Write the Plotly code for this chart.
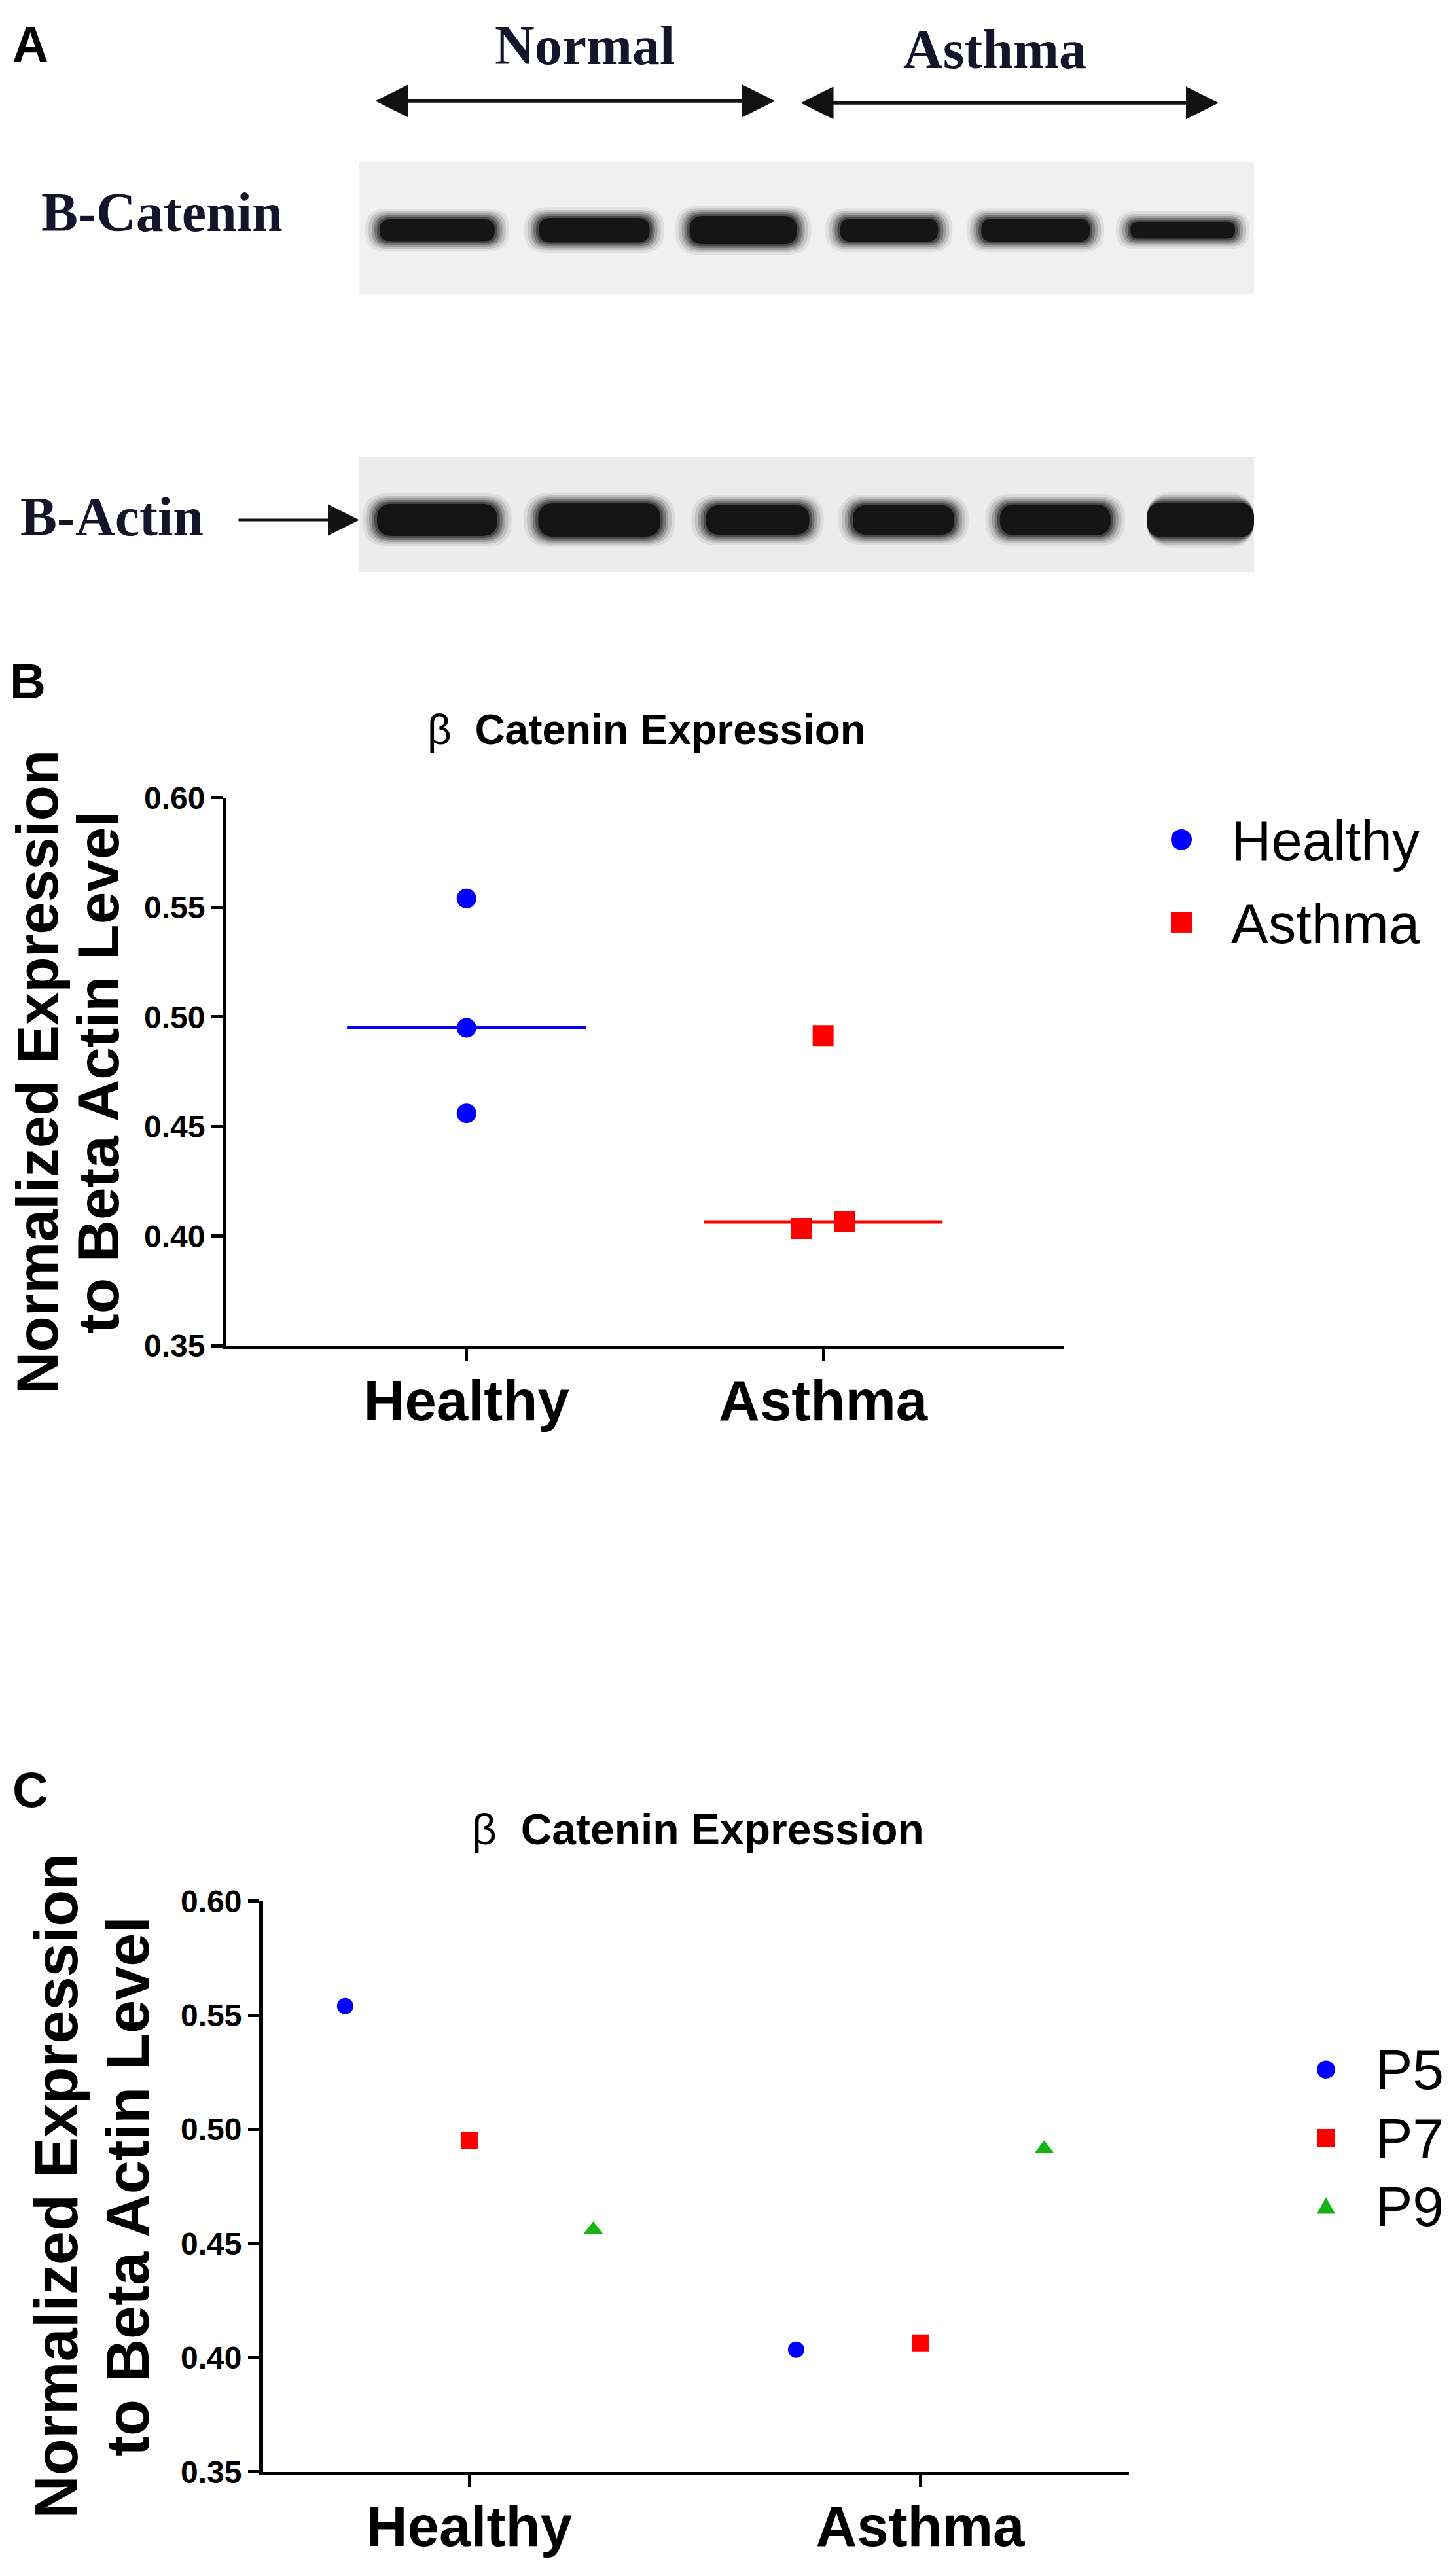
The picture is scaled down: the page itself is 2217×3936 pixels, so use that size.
import plotly.graph_objects as go
import numpy as np

# ------------------------------------------------------------------ data
groups = ["Healthy", "Asthma"]
patients = ["P5", "P7", "P9"]
healthy_expr = [0.554, 0.495, 0.456]      # P5, P7, P9
asthma_expr = [0.4035, 0.4065, 0.4915]    # P5, P7, P9
y_ticks = [0.35, 0.40, 0.45, 0.50, 0.55, 0.60]
blot_groups = ["Normal", "Asthma"]
blot_rows = ["B-Catenin", "B-Actin"]
lanes = [1, 2, 3, 4, 5, 6]

# ------------------------------------------------------------------ style / layout helpers
W, H = 2217, 3936


def fx(p):
    return p / W


def fy(p):
    return 1 - p / H


SANS = "Liberation Sans, Arial, Helvetica, sans-serif"
SERIF = "Liberation Serif, Times New Roman, serif"
BLUE, RED, GREEN = "#0000ff", "#ff0000", "#14b414"
INK = "#14142a"

# jitter used in panel B (Healthy all centred, Asthma P5/P7 nudged apart)
jit_b = {"Healthy": [0.0, 0.0, 0.0], "Asthma": [-0.06, 0.06, 0.0]}
# dodge used in panel C
dodge_c = {"P5": -0.275, "P7": 0.0, "P9": 0.275}
median_half = 0.335

fig = go.Figure()

# ------------------------------------------------------------------ panel B
series_b = {"Healthy": healthy_expr, "Asthma": asthma_expr}
sty_b = {"Healthy": (BLUE, "circle", 30), "Asthma": (RED, "square", 32)}
for gi, g in enumerate(groups):
    med = float(np.median(series_b[g]))
    fig.add_trace(go.Scatter(
        x=[gi - median_half, gi + median_half], y=[med, med], mode="lines",
        line=dict(color=sty_b[g][0], width=5), showlegend=False,
        hoverinfo="skip", xaxis="x", yaxis="y"))
for gi, g in enumerate(groups):
    col, sym, size = sty_b[g]
    fig.add_trace(go.Scatter(
        x=[gi + j for j in jit_b[g]], y=series_b[g], mode="markers", name=g,
        marker=dict(color=col, symbol=sym, size=size, line=dict(width=0)),
        xaxis="x", yaxis="y", showlegend=False))

# ------------------------------------------------------------------ panel C
sty_c = {"P5": (BLUE, "circle", 25), "P7": (RED, "square", 26),
         "P9": (GREEN, "triangle-up", 26)}
for k, p in enumerate(patients):
    col, sym, size = sty_c[p]
    fig.add_trace(go.Scatter(
        x=[gi + dodge_c[p] for gi in range(len(groups))],
        y=[healthy_expr[k], asthma_expr[k]], mode="markers", name=p,
        marker=dict(color=col, symbol=sym, size=size, line=dict(width=0)),
        xaxis="x2", yaxis="y2", showlegend=False))

# ------------------------------------------------------------------ axes
def num_axes(xdom, ydom, xr):
    xa = dict(domain=xdom, range=xr, tickvals=list(range(len(groups))), ticktext=groups,
              showline=True, linewidth=5, linecolor="black", ticks="outside",
              ticklen=18, tickwidth=4, tickcolor="black", showgrid=False, zeroline=False,
              ticklabelstandoff=-14,
              tickfont=dict(family=SANS, size=87, color="black", weight="bold"),
              fixedrange=True)
    ya = dict(domain=ydom, range=[0.35, 0.60], tickvals=y_ticks,
              ticktext=[f"{v:.2f}" for v in y_ticks],
              showline=True, linewidth=6, linecolor="black", ticks="outside",
              ticklen=17, tickwidth=5, tickcolor="black", showgrid=False, zeroline=False,
              tickfont=dict(family=SANS, size=48, color="black", weight="bold"),
              fixedrange=True)
    return xa, ya


xa, ya = num_axes([fx(346), fx(1626)], [fy(2058), fy(1209)], [-0.673, 1.676])
xa["anchor"], ya["anchor"] = "y", "x"
xa2, ya2 = num_axes([fx(402), fx(1725)], [fy(3802), fy(2918)], [-0.457, 1.463])
xa2["anchor"], ya2["anchor"] = "y2", "x2"

# blot panel axes (lanes x rows)
lane_px = 227.8
row_px = 451.0
xa3 = dict(domain=[fx(549), fx(1916)], range=[0.478, 6.478], visible=False,
           anchor="y3", fixedrange=True)
ya3 = dict(domain=[fy(860), fy(224)], range=[2.18, 0.769], visible=False,
           anchor="x3", fixedrange=True)

# ------------------------------------------------------------------ blot drawing (panel A)
shapes = []
shapes.append(dict(type="rect", xref="x3", yref="y3", x0=0.478, x1=6.478,
                   y0=0.769, y1=1 + (429 - 328) / row_px, fillcolor="#f0f0f0",
                   line=dict(width=0), layer="below"))
shapes.append(dict(type="rect", xref="x3", yref="y3", x0=0.478, x1=6.478,
                   y0=1 + (682 - 328) / row_px, y1=2.18, fillcolor="#ececec",
                   line=dict(width=0), layer="below"))

# band geometry (pixels)
band_geom = {
    "B-Catenin": dict(row=1, dy=2,
                      dx=[0, 12, 12, 7, 3, 0],
                      w=[176, 170, 164, 150, 166, 160],
                      h=[34, 38, 44, 36, 36, 26]),
    "B-Actin": dict(row=2, dy=0,
                    dx=[0, 20, 34, 29, 33, 27],
                    w=[184, 187, 158, 155, 169, 164],
                    h=[50, 52, 46, 46, 48, 54]),
}


def stadium(cx, cy, hw, hh, rx, ry):
    return (f"M{cx-hw+rx},{cy-hh} L{cx+hw-rx},{cy-hh} Q{cx+hw},{cy-hh} {cx+hw},{cy-hh+ry} "
            f"L{cx+hw},{cy+hh-ry} Q{cx+hw},{cy+hh} {cx+hw-rx},{cy+hh} "
            f"L{cx-hw+rx},{cy+hh} Q{cx-hw},{cy+hh} {cx-hw},{cy+hh-ry} "
            f"L{cx-hw},{cy-hh+ry} Q{cx-hw},{cy-hh} {cx-hw+rx},{cy-hh} Z")


# soft-edged bands: stacked translucent layers
layers = [(22, 16, 0.07), (17, 12, 0.12), (12, 9, 0.18), (8, 6, 0.26),
          (4, 3, 0.36), (0, 0, 0.72)]
for rname in blot_rows:
    g = band_geom[rname]
    for i, lane in enumerate(lanes):
        cx = lane + g["dx"][i] / lane_px
        cy = g["row"] + g["dy"] / row_px
        for ex, ey, a in layers:
            hw_px = g["w"][i] / 2 + ex
            hh_px = g["h"][i] / 2 + ey
            if rname == "B-Actin" and i == len(lanes) - 1:
                hw_px = g["w"][i] / 2  # last actin band runs into the membrane edge
            r_px = min(hh_px, hw_px) * 0.95
            shapes.append(dict(type="path", xref="x3", yref="y3",
                               path=stadium(cx, cy, hw_px / lane_px, hh_px / row_px,
                                            r_px / lane_px, r_px / row_px),
                               fillcolor=f"rgba(0,0,0,{a})", line=dict(width=0),
                               layer="above"))

# ------------------------------------------------------------------ annotations
ann = []


def txt(x, y, s, size, family=SANS, bold=True, color="black", angle=0, xanchor="center"):
    ann.append(dict(x=fx(x), y=fy(y), xref="paper", yref="paper", text=s, showarrow=False,
                    xanchor=xanchor, yanchor="middle", textangle=angle, borderpad=0,
                    font=dict(family=family, size=size, color=color,
                              weight="bold" if bold else "normal")))


# panel letters
txt(46, 42, "A", 76)
txt(42, 1028, "B", 76)
txt(46, 2745, "C", 76)

# panel A labels
txt(893, 44, blot_groups[0], 84, family=SERIF, color=INK)
txt(1520, 50, blot_groups[1], 84, family=SERIF, color=INK)
txt(248, 303, blot_rows[0], 84, family=SERIF, color=INK)
txt(171, 774, blot_rows[1], 84, family=SERIF, color=INK)

# double-headed group arrows
for head_x, tail_x, yy in [(1184, 572, 130), (1862, 1222, 133)]:
    ann.append(dict(x=fx(head_x), y=fy(yy), xref="paper", yref="paper", text="",
                    showarrow=True, axref="pixel", ayref="pixel", ax=tail_x - head_x, ay=0,
                    arrowside="end+start", arrowhead=2, startarrowhead=2,
                    arrowsize=2, startarrowsize=2, arrowwidth=5, arrowcolor="#111111",
                    standoff=0, startstandoff=0))
# B-Actin pointer arrow
ann.append(dict(x=fx(549), y=fy(779), xref="paper", yref="paper", text="",
                showarrow=True, axref="pixel", ayref="pixel", ax=363 - 549, ay=0,
                arrowhead=2, arrowsize=2.4, arrowwidth=4, arrowcolor="#111111",
                standoff=0))

# plot titles (beta drawn in regular weight, as in the original)
title_txt = "<span style='font-weight:normal'>β</span>  Catenin Expression"
txt(988, 1104, title_txt, 64)
txt(1066, 2807, title_txt, 66)

# y-axis titles (two lines each)
txt(57, 1634, "Normalized Expression", 89, angle=-90)
txt(150, 1634, "to Beta Actin Level", 89, angle=-90)
txt(86, 3360, "Normalized Expression", 92, angle=-90)
txt(195, 3360, "to Beta Actin Level", 92, angle=-90)

# ------------------------------------------------------------------ legends (keys + labels)
def legend_key(sym, cx, cy, d, color):
    r = d / 2
    if sym == "circle":
        shapes.append(dict(type="circle", xref="paper", yref="paper",
                           x0=fx(cx - r), x1=fx(cx + r), y0=fy(cy + r), y1=fy(cy - r),
                           fillcolor=color, line=dict(width=0)))
    elif sym == "square":
        shapes.append(dict(type="rect", xref="paper", yref="paper",
                           x0=fx(cx - r), x1=fx(cx + r), y0=fy(cy + r), y1=fy(cy - r),
                           fillcolor=color, line=dict(width=0)))
    else:
        shapes.append(dict(type="path", xref="paper", yref="paper",
                           path=(f"M{fx(cx - r)},{fy(cy + r * 0.8)} L{fx(cx + r)},{fy(cy + r * 0.8)} "
                                 f"L{fx(cx)},{fy(cy - r * 1.0)} Z"),
                           fillcolor=color, line=dict(width=0)))


for k, g in enumerate(groups):
    col, sym, _ = sty_b[g]
    cy = 1274 + k * 128
    legend_key(sym, 1805, cy, 32, col)
    txt(1880, cy + 2, g, 85, bold=False, xanchor="left")

for k, p in enumerate(patients):
    col, sym, _ = sty_c[p]
    cy = 3179 + k * 106
    legend_key(sym, 2026, cy, 28, col)
    txt(2100, cy, p, 86, bold=False, xanchor="left")

# ------------------------------------------------------------------ layout
fig.update_layout(
    width=W, height=H, autosize=False,
    margin=dict(l=0, r=0, t=0, b=0, pad=0),
    paper_bgcolor="white", plot_bgcolor="white",
    font=dict(family=SANS, color="black"),
    xaxis=xa, yaxis=ya, xaxis2=xa2, yaxis2=ya2, xaxis3=xa3, yaxis3=ya3,
    shapes=shapes, annotations=ann,
    showlegend=False, hovermode=False,
)

fig.write_html("out.html", config={"displayModeBar": False},
               post_script="document.body.style.margin='0';document.body.style.overflow='hidden';")
